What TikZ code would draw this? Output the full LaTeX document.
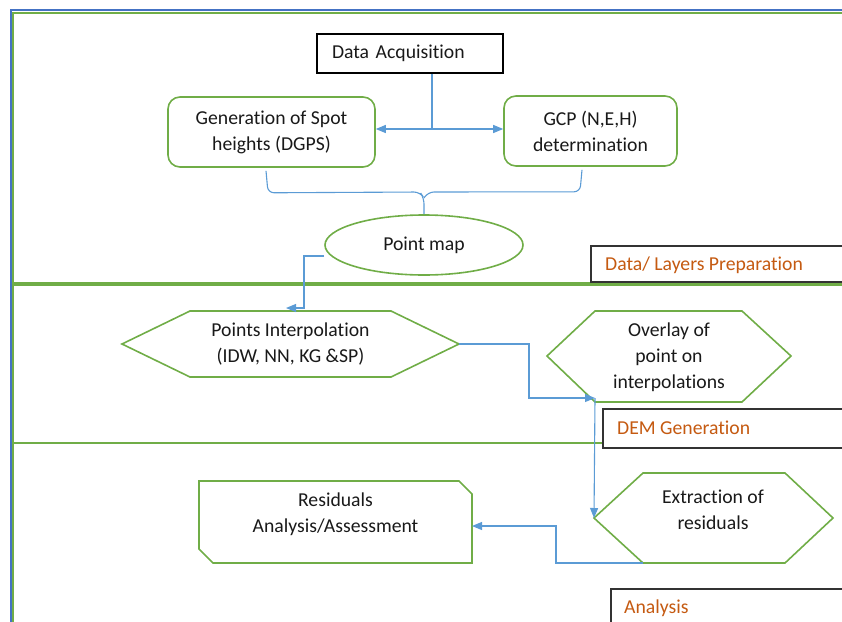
\documentclass[tikz,border=0pt]{standalone}
\usepackage{fontspec}
\setmainfont{Carlito}[RawFeature=-liga]
\usetikzlibrary{shapes.geometric,arrows.meta}
\definecolor{boxgreen}{RGB}{112,173,71}
\definecolor{linkblue}{RGB}{91,155,213}
\definecolor{frameblue}{RGB}{68,114,196}
\definecolor{tagorange}{RGB}{197,90,17}
\tikzset{
	every node/.style={font=\fontsize{19.7}{26}\selectfont, inner sep=0pt, text=black!90},
	section/.style={draw=boxgreen, line width=2pt},
	tagbox/.style={draw=black!80, line width=1.4pt, fill=white},
	tagtext/.style={text=tagorange, anchor=west},
	roundbox/.style={draw=boxgreen, line width=1.6pt, rounded corners=12pt, align=center},
	greenline/.style={draw=boxgreen, line width=1.6pt, line join=miter},
	link/.style={draw=linkblue, line width=1.1pt},
	conn/.style={link, -{Triangle[length=10pt,width=8pt]}},
}
\begin{document}
\begin{tikzpicture}[x=1pt,y=-1pt]
	\useasboundingbox (0,0) rectangle (842,621);
	\clip (0,0) rectangle (842,621);
	% frames
	\draw[frameblue, line width=2.5pt] (11,700) -- (11,10) -- (900,10);
	\draw[section] (13,13) rectangle (900,283);
	\draw[section] (13,285) rectangle (900,443);
	\draw[section] (13,443) rectangle (900,700);
	% section tags
	\draw[tagbox] (900,246) -- (591,246) -- (591,282) -- (900,282);
	\node[tagtext] (tagprep) at (605,265) {Data/ Layers Preparation};
	\draw[tagbox] (900,409) -- (603,409) -- (603,448) -- (900,448);
	\node[tagtext] (tagdem) at (617,428) {DEM Generation};
	\draw[tagbox] (900,589) -- (611,589) -- (611,700);
	\node[tagtext] (tagana) at (624,608) {Analysis};
	% boxes
	\node[draw=black, line width=1.5pt, minimum height=39pt, text width=156pt, inner xsep=15pt, align=left] (acq) at (410,53.5) {Data Acquisition};
	\node[roundbox, minimum width=207pt, minimum height=70pt] (gen) at (271.5,132) {Generation of Spot\\heights (DGPS)};
	\node[roundbox, minimum width=173pt, minimum height=70pt] (gcp) at (590.5,131) {GCP (N,E,H)\\determination};
	\node[ellipse, draw=boxgreen, line width=1.6pt, minimum width=198pt, minimum height=60pt] (pmap) at (424,245) {Point map};
	% hexagons
	\draw[greenline] (122,344) coordinate (interp-w) -- (190,311) -- (391,311) -- (459,344) coordinate (interp-e) -- (391,377) -- (190,377) -- cycle;
	\node[align=center] (interp) at (290.5,344) {Points Interpolation\\(IDW, NN, KG \&SP)};
	\draw[greenline] (547,356) -- (595,311) -- (742,311) -- (791,356) -- (742,402) -- (595,402) coordinate (ov-sw) -- cycle;
	\node[align=center] (overlay) at (669,357) {Overlay of\\point on\\interpolations};
	\draw[greenline] (594,518) coordinate (ex-w) -- (643,473) -- (785,473) -- (833,518) -- (785,563) -- (643,563) coordinate (ex-sw) -- cycle;
	\node[align=center] (extract) at (713,510) {Extraction of\\residuals};
	\draw[greenline] (199,481) -- (459,481) -- (472,494) -- (472,563) -- (213,563) -- (199,549) -- cycle;
	\coordinate (res-e) at (472,526);
	\node[align=center] (resid) at (335.5,514) {Residuals\\Analysis/Assessment};
	% connectors
	\coordinate (split) at (432,129);
	\draw[link] (acq.south -| split) -- (split);
	\draw[conn] (split) -- (gen.east |- split);
	\draw[conn] (split) -- (gcp.west |- split);
	\draw[link, rounded corners=6pt] ([xshift=-5.5pt,yshift=-3pt]gen.south) -- ++(2,22) -- (420,192) -- (424,198) -- (pmap.north);
	\draw[link, rounded corners=6pt] ([xshift=-8.5pt,yshift=-3pt]gcp.south) -- ++(-2,22) -- (428,192) -- (424,198);
	\coordinate (interp-n) at (286,308);
	\draw[conn] ([yshift=-11pt]pmap.west) -- (304,256) -- (304,308) -- (interp-n);
	\draw[conn] (interp-e) -- (529,344) |- ([yshift=4pt]ov-sw);
	\draw[conn] ([yshift=4pt]ov-sw) -- (ex-w);
	\draw[conn] (ex-sw) -- (556,563) |- (res-e);
\end{tikzpicture}
\end{document}
